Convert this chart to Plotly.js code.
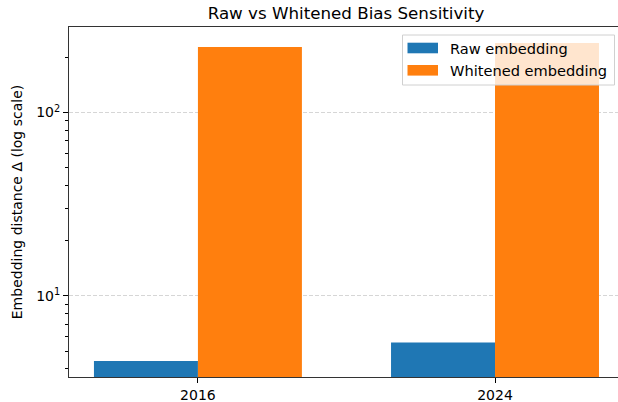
<!DOCTYPE html>
<html>
<head>
<meta charset="utf-8">
<script src="https://cdn.plot.ly/plotly-3.0.1.min.js"></script>
<style>
html,body{margin:0;padding:0;background:#fff;}
#chart{width:618px;height:402px;}
</style>
</head>
<body>
<div id="chart"></div>
<script>
// Data
const years = ["2016", "2024"];
const yearPos = [0, 1];
const rawEmbedding = [4.42, 5.56];
const whitenedEmbedding = [228, 240];
const seriesNames = ["Raw embedding", "Whitened embedding"];
const seriesColors = ["#1f77b4", "#ff7f0e"];
const majorTickVals = [10, 100];
const majorTickText = ["10<sup>1</sup>", "10<sup>2</sup>"];
const minorTickVals = [4, 5, 6, 7, 8, 9, 20, 30, 40, 50, 60, 70, 80, 90, 200];

const barW = 0.35;
const font = "DejaVu Sans, sans-serif";

// plot-area geometry (pixels) for placing the legend box
const M = {l: 69, r: 0, t: 27, b: 25};
const W = 618, H = 402;
const pw = W - M.l - M.r, ph = H - M.t - M.b;
const px = v => (v - M.l) / pw;
const py = v => (H - M.b - v) / ph;

const traces = [
  {
    type: "bar", x: yearPos, y: rawEmbedding, name: seriesNames[0],
    width: barW, offset: -barW, marker: {color: seriesColors[0], line: {width: 0}}
  },
  {
    type: "bar", x: yearPos, y: whitenedEmbedding, name: seriesNames[1],
    width: barW, offset: 0, marker: {color: seriesColors[1], line: {width: 0}}
  }
];

// custom legend (matplotlib style: wide swatches)
const shapes = [
  {type: "rect", xref: "paper", yref: "paper", layer: "above",
   x0: px(402.5), x1: px(614.5), y0: py(85), y1: py(35),
   fillcolor: "rgba(255,255,255,0.8)", line: {color: "#d0d0d0", width: 1}}
];
const annotations = [];
const rowsY = [48, 70.3];
seriesNames.forEach((n, i) => {
  shapes.push({type: "rect", xref: "paper", yref: "paper", layer: "above",
    x0: px(407.5), x1: px(438), y0: py(rowsY[i] + 5.3), y1: py(rowsY[i] - 5.3),
    fillcolor: seriesColors[i], line: {width: 0}});
  annotations.push({xref: "paper", yref: "paper", x: px(448), y: py(rowsY[i]),
    xanchor: "left", yanchor: "middle", showarrow: false, text: n,
    font: {family: font, size: 14.6, color: "#000"}});
});

const layout = {
  width: W, height: H,
  margin: {l: M.l, r: M.r, t: M.t, b: M.b, pad: 0},
  paper_bgcolor: "#fff", plot_bgcolor: "#fff",
  barmode: "overlay",
  font: {family: font, size: 14, color: "#000"},
  title: {
    text: "Raw vs Whitened Bias Sensitivity",
    font: {family: font, size: 16.7, color: "#000"},
    xref: "paper", x: 0.5046, xanchor: "center",
    yref: "container", y: 1 - 13 / 402, yanchor: "middle"
  },
  xaxis: {
    range: [-0.434, 1.414],
    tickvals: yearPos, ticktext: years,
    ticks: "outside", ticklen: 5, tickwidth: 1, tickcolor: "#000",
    showline: true, linecolor: "#333", linewidth: 1, mirror: true,
    showgrid: false, zeroline: false,
    tickfont: {family: font, size: 14, color: "#000"}
  },
  yaxis: {
    type: "log",
    range: [Math.log10(3.61), Math.log10(293)],
    tickvals: majorTickVals, ticktext: majorTickText,
    ticks: "outside", ticklen: 5, tickwidth: 1, tickcolor: "#000",
    showline: true, linecolor: "#333", linewidth: 1, mirror: false,
    showgrid: true, gridcolor: "rgba(200,200,200,0.75)", griddash: "4px,2px", gridwidth: 1,
    zeroline: false,
    minor: {tickvals: minorTickVals, ticks: "outside", ticklen: 3, tickwidth: 1, tickcolor: "#000", showgrid: false},
    tickfont: {family: font, size: 14, color: "#000"},
    title: {text: "Embedding distance Δ (log scale)", font: {family: font, size: 14, color: "#000"}, standoff: 10}
  },
  showlegend: false,
  shapes: shapes,
  annotations: annotations
};

Plotly.newPlot("chart", traces, layout, {displayModeBar: false, staticPlot: true});
</script>
</body>
</html>
